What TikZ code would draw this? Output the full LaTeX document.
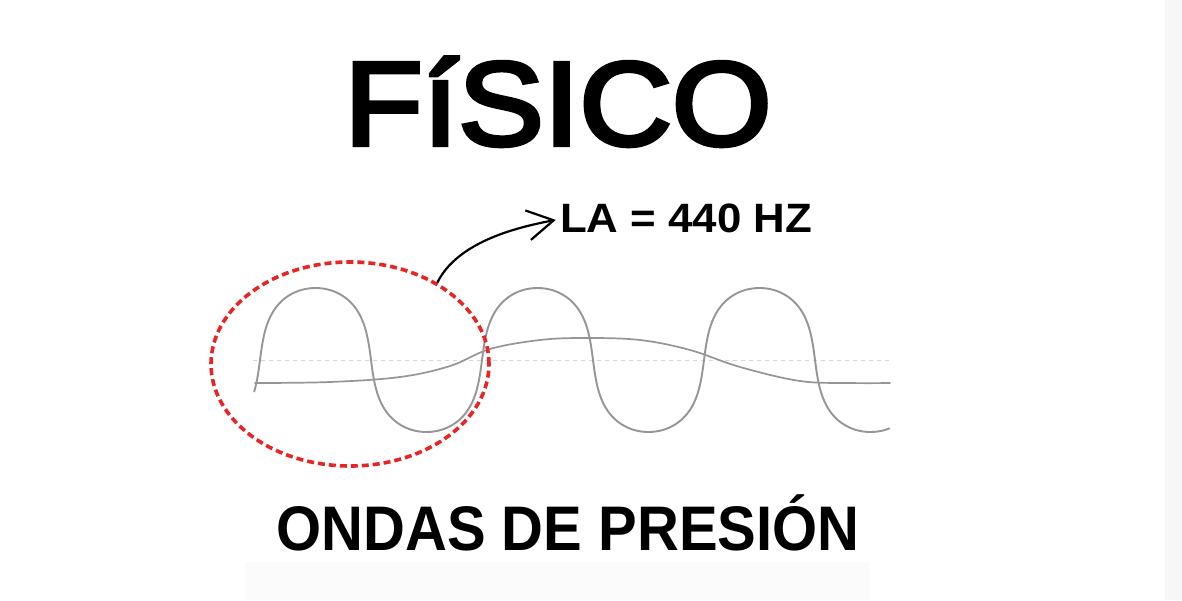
\documentclass[tikz,border=0pt]{standalone}
\usepackage{fontspec}
\usepackage{graphicx}
\setmainfont{Liberation Sans}
\newfontfamily\titlefont{Liberation Sans}[BoldFont={Liberation Sans}, BoldFeatures={FakeBold=3.6}]
\usetikzlibrary{shapes.geometric,arrows.meta}
\definecolor{wavegray}{RGB}{150,150,150}
\definecolor{guidegray}{RGB}{215,215,215}
\definecolor{dotred}{RGB}{232,36,36}
\definecolor{stripgray}{RGB}{247,247,247}
\definecolor{bandgray}{RGB}{251,251,251}
\tikzset{
  wave/.style={draw=wavegray, line width=1.9pt, line cap=round, line join=round},
  guide/.style={draw=guidegray, line width=1pt, dash pattern=on 4pt off 4pt},
  ring/.style={ellipse, draw=dotred, line width=3.6pt, dash pattern=on 7pt off 4pt, inner sep=0pt},
  pointer/.style={draw=black, line width=2.2pt, -{Straight Barb[length=26pt,width=30pt,line width=2.2pt]}},
}
\begin{document}
\begin{tikzpicture}[x=1pt,y=-1pt]
\useasboundingbox (0,0) rectangle (1182,600);
\fill[white] (0,0) rectangle (1182,600);
\fill[stripgray] (1165,0) rectangle (1182,600);
\fill[bandgray] (245,562) rectangle (870,600);

% title
\node[anchor=base, inner sep=0pt] (title) at (558,145)
  {\resizebox{427pt}{\height}{\fontsize{119}{119}\selectfont\titlefont\bfseries FíSICO}};

% guide line and waves
\coordinate (g1) at (253,360);
\coordinate (g2) at (890,360);
\draw[guide] (g1) -- (g2);
\draw[wave] plot[domain=-26:1008, samples=360, smooth]
  ({260 + 0.61667*\x - 13*sin(2*\x)}, {360 - 72*sin(\x)});
\draw[wave, line width=1.7pt] plot[smooth, tension=0.6] coordinates
  {(255,383) (330,382) (400,377) (450,366) (490,349) (540,340) (585,338) (640,340) (690,350) (740,367) (800,381) (850,383) (890,383)};

% red dotted ring
\node[ring, minimum width=278pt, minimum height=204pt] (ring) at (350,364) {};

% label and arrow
\node[anchor=base, inner sep=0pt] (la) at (686,232)
  {\resizebox{252pt}{\height}{\fontsize{41}{41}\selectfont\bfseries LA = 440 HZ}};
\draw[pointer] (ring.43) .. controls +(20,-40) and +(-42,8) .. ([xshift=-4pt,yshift=-2pt]la.west);

% caption
\node[anchor=base, inner sep=0pt] (caption) at (568,550)
  {\resizebox{583pt}{\height}{\fontsize{63}{63}\selectfont\bfseries ONDAS DE PRESIÓN}};
\end{tikzpicture}
\end{document}
